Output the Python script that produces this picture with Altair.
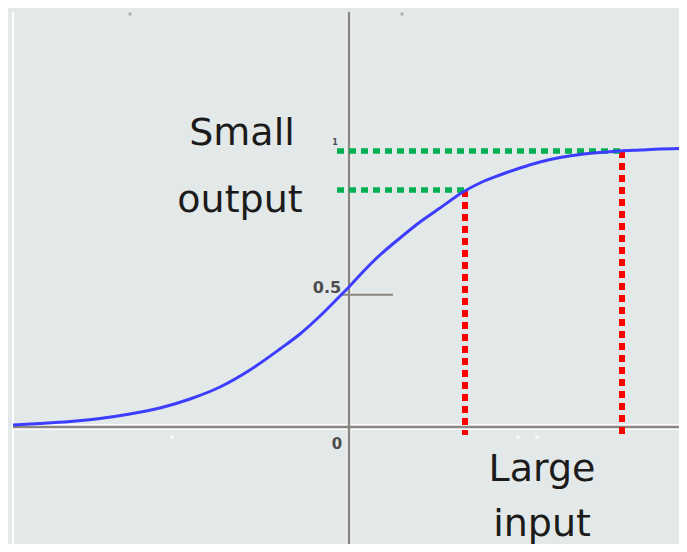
import altair as alt
import pandas as pd

# Sigmoid-like curve
curve_x = [-6.72, -6.18, -5.58, -4.98, -4.38, -3.78, -3.18, -2.58, -1.98, -1.38,
           -0.98, -0.58, -0.18, 0.0, 0.22, 0.62, 1.02, 1.42, 1.82, 2.28,
           2.62, 3.02, 3.42, 3.82, 4.22, 4.62, 5.02, 5.42, 5.82, 6.22, 6.60]
curve_y = [0.0072, 0.0126, 0.0199, 0.0307, 0.0469, 0.0686, 0.1011, 0.1444, 0.2058, 0.2816,
           0.3357, 0.4007, 0.4729, 0.5054, 0.5487, 0.6209, 0.6823, 0.7401, 0.7906, 0.8484,
           0.8809, 0.9097, 0.9350, 0.9567, 0.9729, 0.9838, 0.9910, 0.9964, 1.0000, 1.0036, 1.0054]

# Guide lines
green_y = [0.996, 0.856]
green_x_start = [-0.24, -0.24]
green_x_end = [5.46, 2.32]
red_x = [2.32, 5.46]
red_y_top = [0.856, 0.996]
red_y_bottom = [-0.029, -0.029]

# Labels
tick_labels = ["0", "0.5", "1"]
tick_x = [-0.24, -0.44, -0.28]
tick_y = [-0.061, 0.502, 1.025]
tick_size = [15, 16, 8]

note_text = ["Small", "output", "Large", "input"]
note_x = [-2.14, -2.18, 3.86, 3.86]
note_y = [1.018, 0.776, -0.195, -0.3935]

X_DOM = [-6.82, 6.60]
Y_DOM = [-0.4224, 1.5126]
W, H = 671, 536

xs = alt.Scale(domain=X_DOM, nice=False, zero=False)
ys = alt.Scale(domain=Y_DOM, nice=False, zero=False)


def X(f):
    return alt.X(f, type="quantitative", scale=xs, axis=None)


def Y(f):
    return alt.Y(f, type="quantitative", scale=ys, axis=None)


curve_df = pd.DataFrame({"x": curve_x, "y": curve_y})
green_df = pd.DataFrame({"x": green_x_start, "x2": green_x_end, "y": green_y})
red_df = pd.DataFrame({"x": red_x, "y": red_y_top, "y2": red_y_bottom})
tick_df = pd.DataFrame({"t": tick_labels, "x": tick_x, "y": tick_y, "s": tick_size})
note_df = pd.DataFrame({"t": note_text, "x": note_x, "y": note_y})

haxis_df = pd.DataFrame({"x": [-6.72], "x2": [6.60], "y": [0.0]})
vaxis_df = pd.DataFrame({"x": [0.0], "y": [1.498], "y2": [-0.4224]})
left_df = pd.DataFrame({"x": [-6.72], "y": [1.498], "y2": [-0.4224]})
half_df = pd.DataFrame({"x": [-0.18], "x2": [0.88], "y": [0.477]})
dots_df = pd.DataFrame({"x": [-4.38, 1.06], "y": [1.491, 1.491]})
wdots_df = pd.DataFrame({"x": [-3.54, 3.38, 3.76], "y": [-0.036, -0.036, -0.036]})

layers = []

# halos
layers.append(alt.Chart(haxis_df).mark_rule(color="white", strokeWidth=6, opacity=0.9)
              .encode(x=X("x"), x2="x2", y=Y("y")))
layers.append(alt.Chart(vaxis_df).mark_rule(color="white", strokeWidth=5, opacity=0.7)
              .encode(x=X("x"), y=Y("y"), y2="y2"))
layers.append(alt.Chart(left_df).mark_rule(color="white", strokeWidth=2)
              .encode(x=X("x"), y=Y("y"), y2="y2"))
# axes
layers.append(alt.Chart(haxis_df).mark_rule(color="#8a8681", strokeWidth=2.5)
              .encode(x=X("x"), x2="x2", y=Y("y")))
layers.append(alt.Chart(vaxis_df).mark_rule(color="#8a8681", strokeWidth=2.5)
              .encode(x=X("x"), y=Y("y"), y2="y2"))
layers.append(alt.Chart(half_df).mark_rule(color="#8a8681", strokeWidth=2)
              .encode(x=X("x"), x2="x2", y=Y("y")))
# tiny marks
layers.append(alt.Chart(dots_df).mark_square(color="#9a9a9a", size=8, opacity=0.8)
              .encode(x=X("x"), y=Y("y")))
layers.append(alt.Chart(wdots_df).mark_square(color="white", size=14)
              .encode(x=X("x"), y=Y("y")))
# dotted guides
layers.append(alt.Chart(red_df).mark_rule(color="#ff0000", strokeWidth=6, strokeDash=[7, 5],
                                          strokeCap="butt")
              .encode(x=X("x"), y=Y("y"), y2="y2"))
layers.append(alt.Chart(green_df).mark_rule(color="#00b050", strokeWidth=5.5, strokeDash=[7, 5],
                                            strokeCap="butt")
              .encode(x=X("x"), x2="x2", y=Y("y")))
# curve
layers.append(alt.Chart(curve_df).mark_line(color="#3d3dff", strokeWidth=3, interpolate="monotone")
              .encode(x=X("x"), y=Y("y")))
# tick labels
layers.append(alt.Chart(tick_df).mark_text(font="DejaVu Sans", fontWeight="bold", color="#4d4d4d",
                                           align="center", baseline="middle")
              .encode(x=X("x"), y=Y("y"), text="t", size=alt.Size("s:Q", scale=None, legend=None)))
# notes
layers.append(alt.Chart(note_df).mark_text(font="DejaVu Sans", fontSize=38, color="#1b1b1b",
                                           align="center", baseline="alphabetic")
              .encode(x=X("x"), y=Y("y"), text="t"))

chart = alt.layer(*layers).properties(
    width=W, height=H,
    autosize=alt.AutoSizeParams(type="none"),
    padding=0,
    background="#e3e8e8",
).configure_view(stroke=None)

chart.save("out.html", embed_options={"renderer": "svg", "actions": False})
